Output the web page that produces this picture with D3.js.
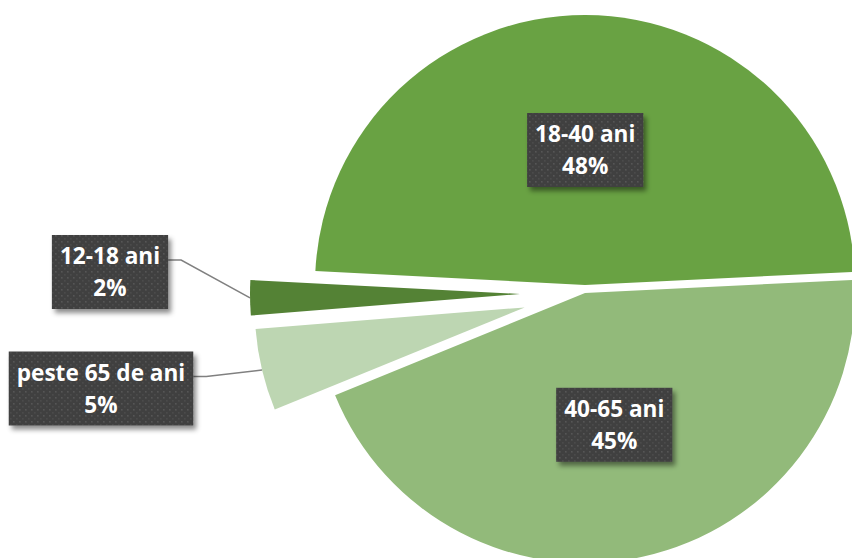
<!DOCTYPE html>
<html>
<head>
<meta charset="utf-8">
<script src="https://cdn.jsdelivr.net/npm/d3@7"></script>
<style>
  html, body { margin: 0; padding: 0; background: #ffffff; }
  svg { display: block; }
</style>
</head>
<body>
<div id="chart"></div>
<script>
// ---- data ----
const categories = ["12-18 ani", "18-40 ani", "40-65 ani", "peste 65 de ani"];
const values = [2.1, 48.4, 44.6, 4.9];
const colors = ["#548235", "#69A243", "#92BA7A", "#BDD6B2"];

// ---- layout ----
const W = 852, H = 558;
const R = 270;
const cx = 585, cy = 293;
const explode = [65, 8, 0, 62];
const startDeg = 265.4;
const fontSize = 22.6;
const lineGap = 32;
const pad = 8;
const boxH = 74;
// label placement: "inside" uses slice centroid, otherwise fixed box centre
const labelPos = [[110, 272], "inside", "inside", [101, 388.5]];

const svg = d3.select("#chart").append("svg")
  .attr("width", W).attr("height", H);

const defs = svg.append("defs");
const pat = defs.append("pattern").attr("id", "dots")
  .attr("width", 6).attr("height", 6).attr("patternUnits", "userSpaceOnUse");
pat.append("rect").attr("width", 6).attr("height", 6).attr("fill", "#3f3f3f");
pat.append("rect").attr("x", 1).attr("y", 1).attr("width", 1.6).attr("height", 1.6).attr("fill", "#565656");
pat.append("rect").attr("x", 4).attr("y", 4).attr("width", 1.6).attr("height", 1.6).attr("fill", "#4c4c4c");

const f = defs.append("filter").attr("id", "shadow")
  .attr("x", "-20%").attr("y", "-20%").attr("width", "150%").attr("height", "160%");
f.append("feDropShadow").attr("dx", 3).attr("dy", 4).attr("stdDeviation", 2.5)
  .attr("flood-color", "#000").attr("flood-opacity", 0.45);

const total = d3.sum(values);
const data = categories.map((c, i) => ({ cat: c, value: values[i], i }));

const start = startDeg * Math.PI / 180;
const pie = d3.pie().sort(null).value(d => d.value)
  .startAngle(start).endAngle(start + 2 * Math.PI);
const arcs = pie(data);
const arc = d3.arc().innerRadius(0).outerRadius(R);
const fmt = d3.format(".0%");

function offset(a, i) {
  const mid = (a.startAngle + a.endAngle) / 2;
  return [cx + explode[i] * Math.sin(mid), cy - explode[i] * Math.cos(mid)];
}

const g = svg.append("g");
g.selectAll("path.slice").data(arcs).enter().append("path")
  .attr("class", "slice")
  .attr("transform", (a, i) => { const o = offset(a, i); return `translate(${o[0]},${o[1]})`; })
  .attr("d", arc)
  .attr("fill", (a, i) => colors[i]);

// labels
const lab = svg.append("g")
  .style("font-family", "'Open Sans', 'DejaVu Sans', sans-serif")
  .style("font-weight", "bold")
  .style("font-size", fontSize + "px");

arcs.forEach((a, i) => {
  const o = offset(a, i);
  const mid = (a.startAngle + a.endAngle) / 2;
  let c;
  if (labelPos[i] === "inside") {
    const ce = arc.centroid(a);
    c = [o[0] + ce[0], o[1] + ce[1]];
  } else {
    c = labelPos[i];
  }
  const grp = lab.append("g");
  const rect = grp.append("rect");
  const t1 = grp.append("text").attr("x", c[0]).attr("y", c[1] - lineGap / 2 + 8)
    .attr("text-anchor", "middle").attr("fill", "#ffffff").text(a.data.cat);
  const t2 = grp.append("text").attr("x", c[0]).attr("y", c[1] + lineGap / 2 + 8)
    .attr("text-anchor", "middle").attr("fill", "#ffffff").text(fmt(a.data.value / total));
  const w = Math.max(t1.node().getComputedTextLength(), t2.node().getComputedTextLength()) + 2 * pad;
  rect.attr("x", c[0] - w / 2).attr("y", c[1] - boxH / 2)
    .attr("width", w).attr("height", boxH)
    .attr("fill", "url(#dots)").attr("filter", "url(#shadow)");

  if (labelPos[i] !== "inside") {
    const px = o[0] + R * Math.sin(mid), py = o[1] - R * Math.cos(mid);
    const sx = c[0] + w / 2, sy = c[1] - 12;
    svg.insert("polyline", "g")
      .attr("points", `${sx},${sy} ${sx + 13},${sy} ${px},${py}`)
      .attr("fill", "none").attr("stroke", "#808080").attr("stroke-width", 1.5);
  }
});
</script>
</body>
</html>
